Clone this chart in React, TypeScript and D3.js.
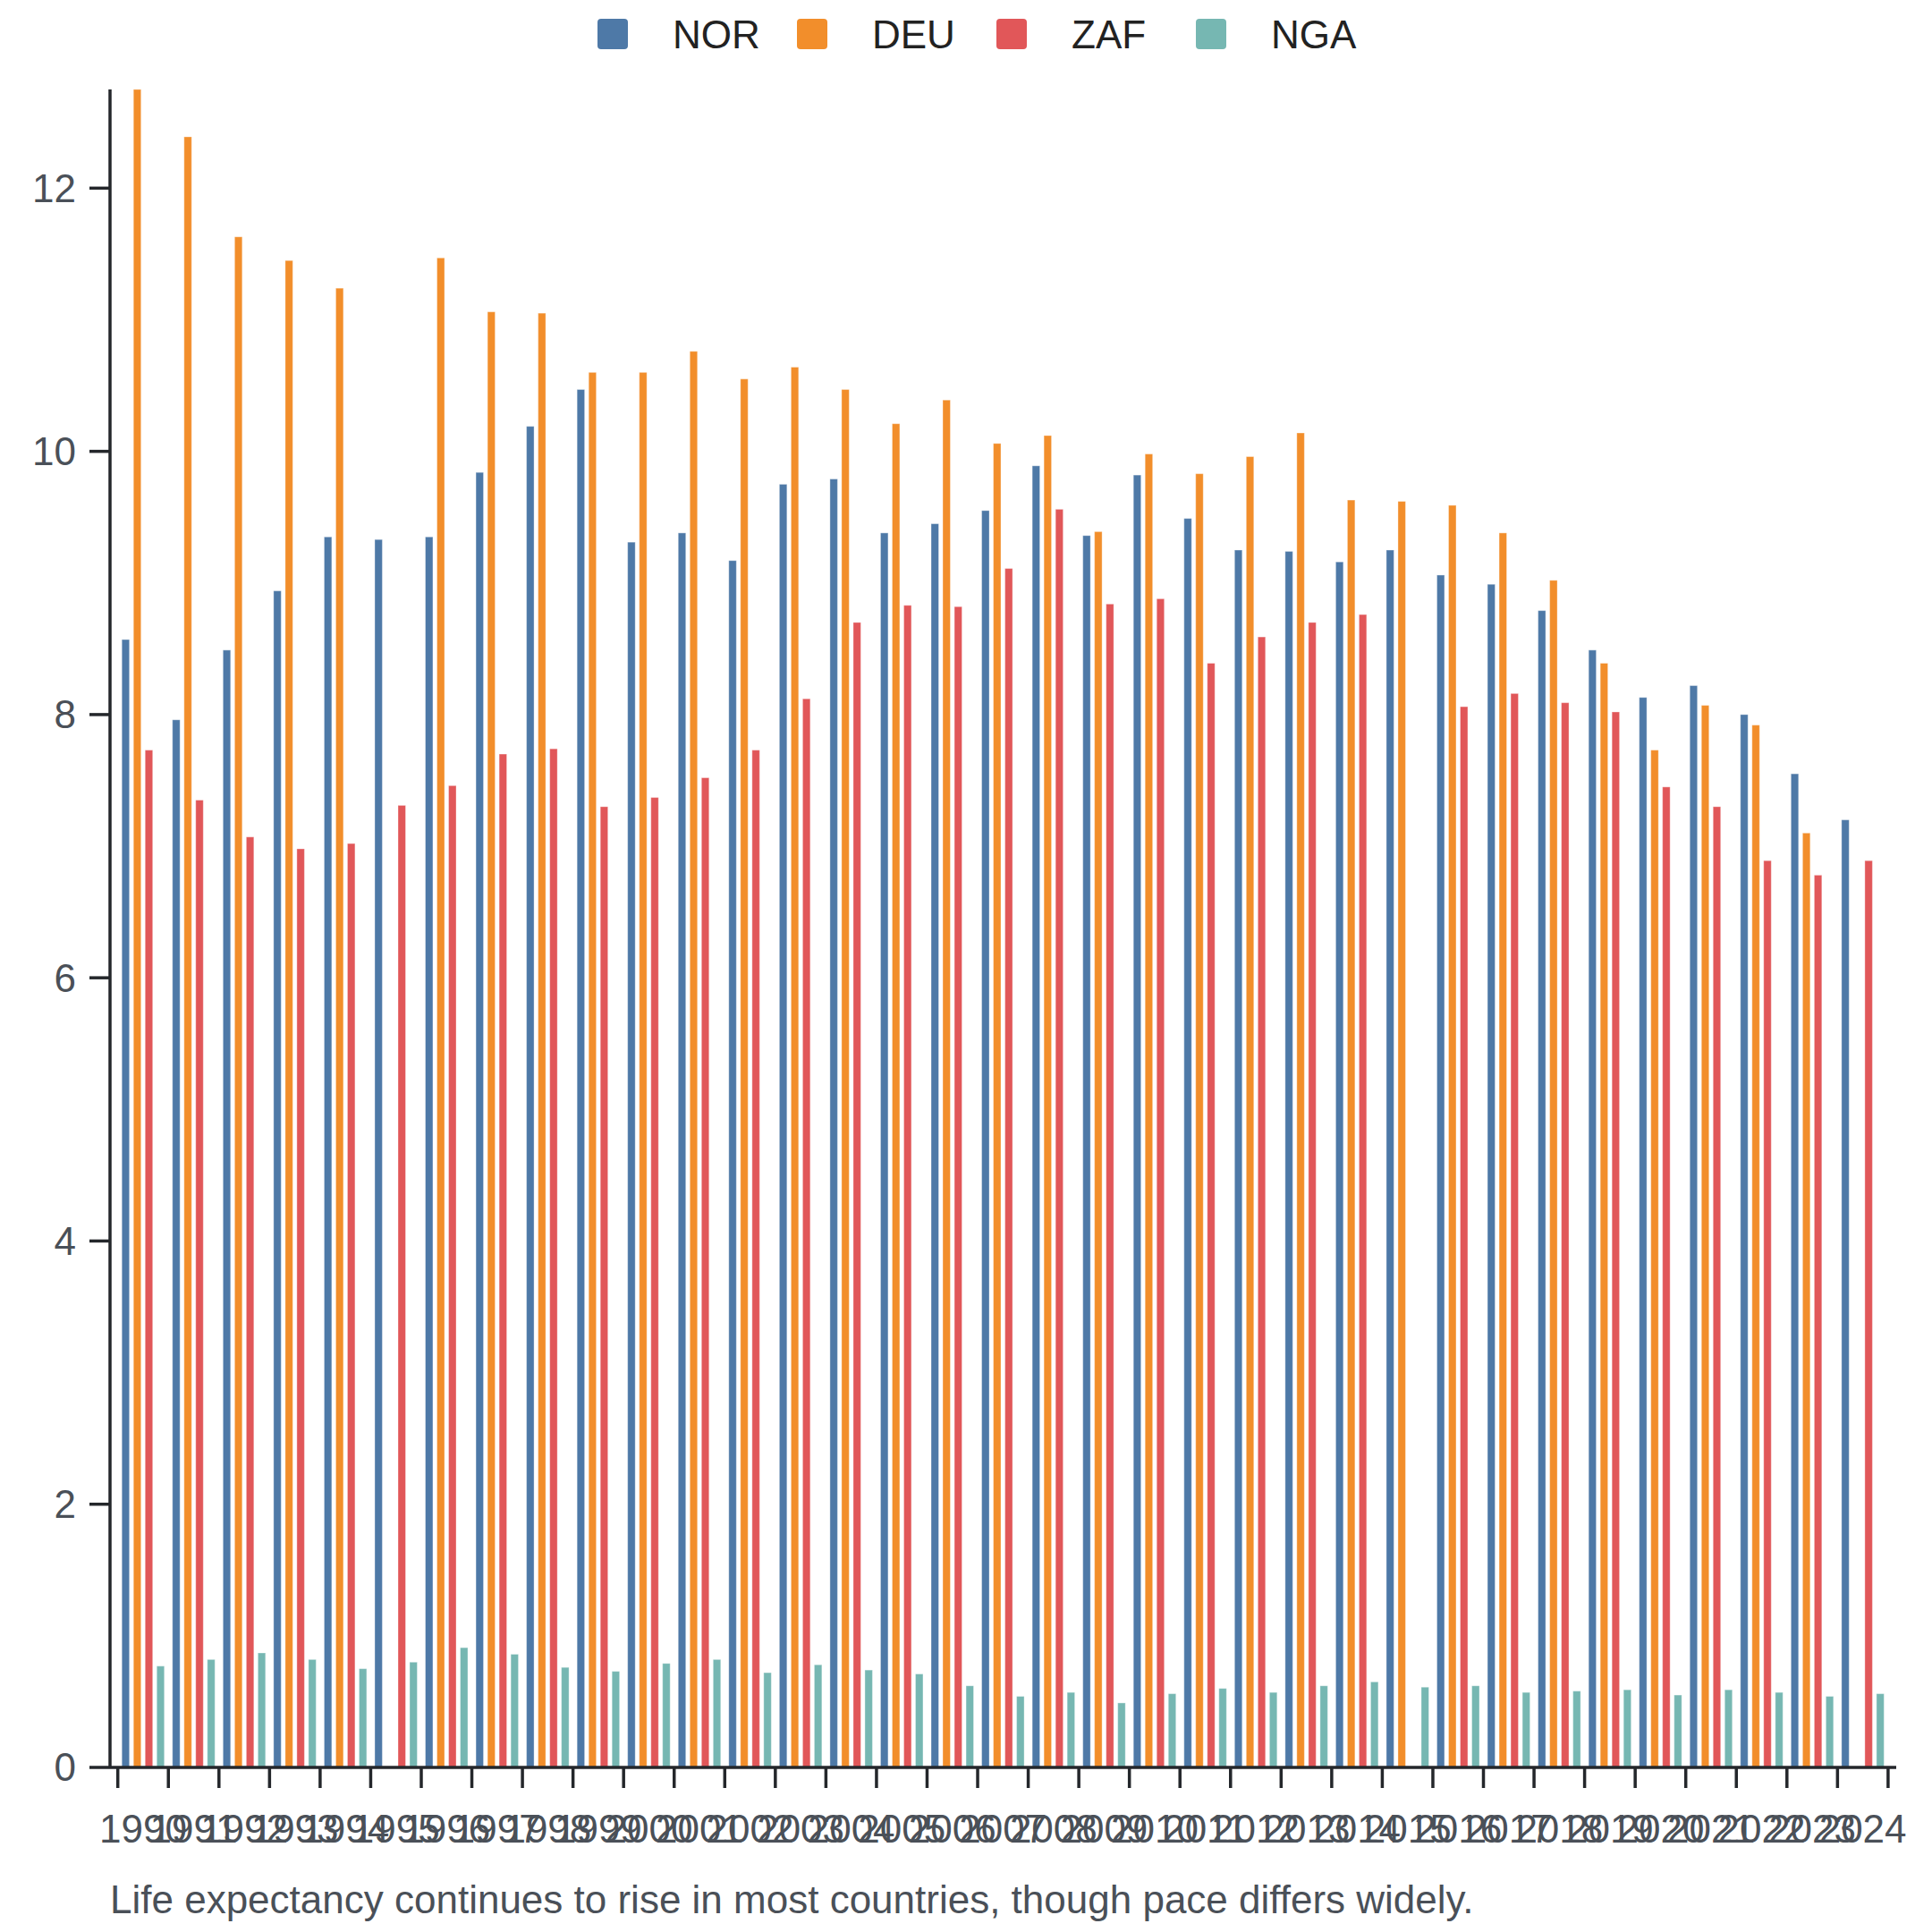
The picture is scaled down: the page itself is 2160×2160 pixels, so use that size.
import { useEffect, useRef } from 'react'
import * as d3 from 'd3'

const years = d3.range(1990, 2025).map(String)
const countries = ['NOR', 'DEU', 'ZAF', 'NGA']
const colors = ['#4e79a7', '#f28e2b', '#e15759', '#76b7b2']

const nor: (number | null)[] = [
  8.57, 7.96, 8.49, 8.94, 9.35, 9.33, 9.35, 9.84, 10.19, 10.47,
  9.31, 9.38, 9.17, 9.75, 9.79, 9.38, 9.45, 9.55, 9.89, 9.36,
  9.82, 9.49, 9.25, 9.24, 9.16, 9.25, 9.06, 8.99, 8.79, 8.49,
  8.13, 8.22, 8.0, 7.55, 7.2,
]
const deu: (number | null)[] = [
  12.75, 12.39, 11.63, 11.45, 11.24, null, 11.47, 11.06, 11.05, 10.6,
  10.6, 10.76, 10.55, 10.64, 10.47, 10.21, 10.39, 10.06, 10.12, 9.39,
  9.98, 9.83, 9.96, 10.14, 9.63, 9.62, 9.59, 9.38, 9.02, 8.39,
  7.73, 8.07, 7.92, 7.1, null,
]
const zaf: (number | null)[] = [
  7.73, 7.35, 7.07, 6.98, 7.02, 7.31, 7.46, 7.7, 7.74, 7.3,
  7.37, 7.52, 7.73, 8.12, 8.7, 8.83, 8.82, 9.11, 9.56, 8.84,
  8.88, 8.39, 8.59, 8.7, 8.76, null, 8.06, 8.16, 8.09, 8.02,
  7.45, 7.3, 6.89, 6.78, 6.89,
]
const nga: (number | null)[] = [
  0.77, 0.82, 0.87, 0.82, 0.75, 0.8, 0.91, 0.86, 0.76, 0.73,
  0.79, 0.82, 0.72, 0.78, 0.74, 0.71, 0.62, 0.54, 0.57, 0.49,
  0.56, 0.6, 0.57, 0.62, 0.65, 0.61, 0.62, 0.57, 0.58, 0.59,
  0.55, 0.59, 0.57, 0.54, 0.56,
]
const yTicks = [0, 2, 4, 6, 8, 10, 12]
const caption = 'Life expectancy continues to rise in most countries, though pace differs widely.'

const FONT = '"Liberation Sans", Arial, Helvetica, sans-serif'

export default function App() {
  const svgRef = useRef<SVGSVGElement>(null)

  useEffect(() => {
    if (!svgRef.current) return
    const svg = d3.select(svgRef.current)
    svg.selectAll('*').remove()

    const axisX = 123
    const top = 100
    const baseY = 1976
    const series = [nor, deu, zaf, nga]

    const y = d3.scaleLinear().domain([0, 12.75]).range([baseY, top])
    const x0 = d3.scaleBand().domain(years).range([131.7, 2110.9])
      .paddingInner(0.16).paddingOuter(0.08)
    const x1 = d3.scaleBand().domain(countries).range([0, x0.bandwidth()]).paddingInner(0.35)
    const step = x0.step()
    const x0start = x0.range()[0]

    // Bars
    const groups = svg.append('g').selectAll('g')
      .data(years)
      .join('g')
      .attr('transform', d => `translate(${x0(d)},0)`)

    groups.selectAll('rect')
      .data((_, i) => countries.map((c, k) => ({ c, k, v: series[k][i] })).filter(d => d.v != null))
      .join('rect')
      .attr('x', d => x1(d.c)!)
      .attr('y', d => y(d.v as number))
      .attr('width', x1.bandwidth())
      .attr('height', d => baseY - y(d.v as number))
      .attr('fill', d => colors[d.k])
      .attr('stroke', '#ffffff').attr('stroke-opacity', 0.35).attr('stroke-width', 1)

    const axisColor = '#24272b'
    const labelColor = '#4a5058'

    // Y axis
    const ya = svg.append('g')
    ya.append('line')
      .attr('x1', axisX).attr('x2', axisX).attr('y1', top).attr('y2', baseY)
      .attr('stroke', axisColor).attr('stroke-width', 3.5)
    ya.selectAll('line.tick')
      .data(yTicks)
      .join('line')
      .attr('class', 'tick')
      .attr('x1', 100).attr('x2', axisX)
      .attr('y1', d => y(d)).attr('y2', d => y(d))
      .attr('stroke', axisColor).attr('stroke-width', 3.5)
    ya.selectAll('text')
      .data(yTicks)
      .join('text')
      .attr('x', 85).attr('y', d => y(d))
      .attr('dy', '0.35em')
      .attr('text-anchor', 'end')
      .attr('font-family', FONT).attr('font-size', 44).attr('fill', labelColor)
      .text(d => `${d}`)

    // X axis: ticks on the year boundaries, labels in the middle of each year
    const xa = svg.append('g')
    xa.append('line')
      .attr('x1', axisX).attr('x2', 2120).attr('y1', baseY).attr('y2', baseY)
      .attr('stroke', axisColor).attr('stroke-width', 3.5)
    xa.selectAll('line.tick')
      .data(d3.range(years.length + 1))
      .join('line')
      .attr('class', 'tick')
      .attr('x1', i => x0start + i * step).attr('x2', i => x0start + i * step)
      .attr('y1', baseY).attr('y2', baseY + 23)
      .attr('stroke', axisColor).attr('stroke-width', 3.5)
    xa.selectAll('text')
      .data(years)
      .join('text')
      .attr('x', d => x0(d)! + x0.bandwidth() / 2)
      .attr('y', 2060)
      .attr('text-anchor', 'middle')
      .attr('font-family', FONT).attr('font-size', 44).attr('fill', labelColor)
      .text(d => d)

    // Caption
    svg.append('text')
      .attr('x', axisX).attr('y', 2139)
      .attr('font-family', FONT).attr('font-size', 44).attr('fill', labelColor)
      .text(caption)

    // Legend
    const legend = svg.append('g')
    const items = legend.selectAll('g')
      .data(countries)
      .join('g')
      .attr('transform', (_, i) => `translate(${668 + i * 223},21)`)
    items.append('rect')
      .attr('width', 34).attr('height', 34).attr('rx', 4)
      .attr('fill', (_, i) => colors[i])
    items.append('text')
      .attr('x', 84).attr('y', 33)
      .attr('font-family', FONT).attr('font-size', 44).attr('fill', '#222222')
      .text(d => d)
  }, [])

  return (
    <svg
      ref={svgRef}
      width={2160}
      height={2160}
      style={{ position: 'absolute', left: 0, top: 0, background: '#ffffff' }}
    />
  )
}
